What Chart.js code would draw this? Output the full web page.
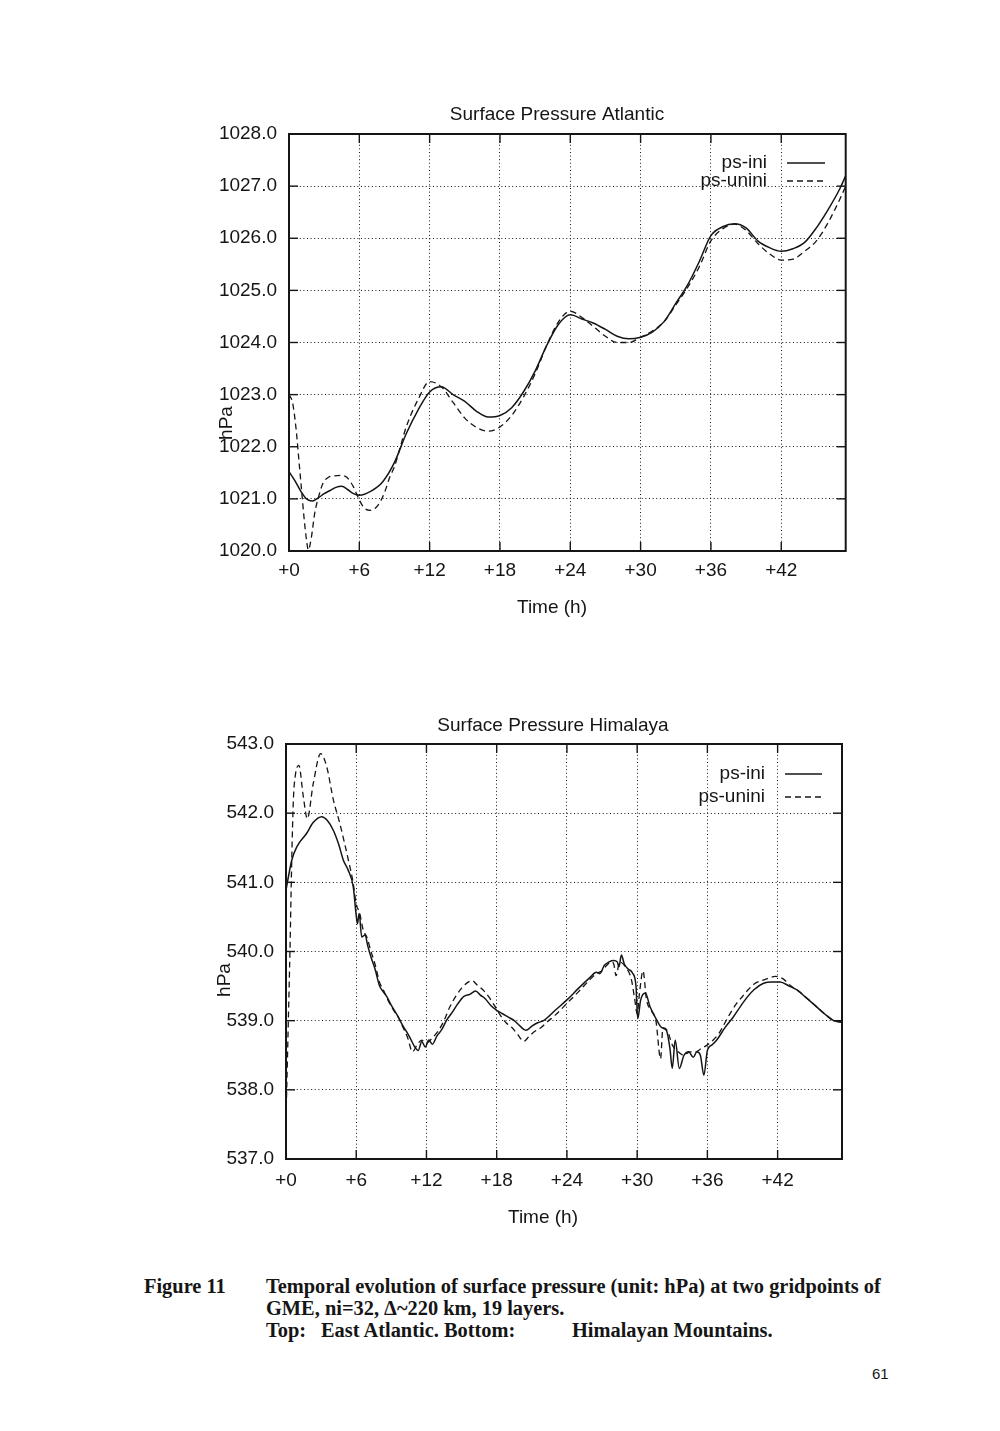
<!DOCTYPE html>
<html>
<head>
<meta charset="utf-8">
<script src="https://cdn.jsdelivr.net/npm/chart.js@4.4.1/dist/chart.umd.min.js"></script>
<style>
html,body{margin:0;padding:0;background:#fff;}
body{width:1000px;height:1431px;position:relative;overflow:hidden;}
canvas{position:absolute;left:0;}
.cap{position:absolute;font-family:"Liberation Serif","Times New Roman",serif;font-weight:bold;font-size:20.4px;line-height:22px;color:#151515;white-space:pre;}
.pg{position:absolute;font-family:"Liberation Sans",Arial,sans-serif;font-size:15px;line-height:18px;color:#151515;}
</style>
</head>
<body>
<canvas id="c1" width="1000" height="640" style="top:0;width:1000px;height:640px"></canvas>
<canvas id="c2" width="1000" height="620" style="top:640px;width:1000px;height:620px"></canvas>
<div class="cap" style="left:144px;top:1275px">Figure 11</div>
<div class="cap" style="left:266px;top:1275px">Temporal evolution of surface pressure (unit: hPa) at two gridpoints of</div>
<div class="cap" style="left:266px;top:1297px">GME, ni=32, Δ~220 km, 19 layers.</div>
<div class="cap" style="left:266px;top:1319px">Top:</div>
<div class="cap" style="left:321px;top:1319px">East Atlantic. Bottom:</div>
<div class="cap" style="left:572px;top:1319px">Himalayan Mountains.</div>
<div class="pg" style="left:872px;top:1365px">61</div>
<script>
// ---------------- data ----------------
const seriesLabels = ['ps-ini', 'ps-unini'];
const xTickStep = 6;            // hours between x ticks
const timeMax = 47.5;           // last hour shown

// Top: Surface Pressure Atlantic (hPa)
const atlIniTime = [0,0.5,1,1.5,2,2.5,3,3.5,4,4.5,5,5.5,6,7,8,9,10,11,12,13,14,15,16,17,18,19,20,21,22,23,24,25,26,27,28,29,30,31,32,33,34,35,36,37,38,39,40,41,42,43,44,45,46,47,47.5];
const atlIni = [1021.52,1021.35,1021.15,1021.0,1020.96,1021.02,1021.1,1021.16,1021.22,1021.24,1021.18,1021.1,1021.07,1021.15,1021.33,1021.7,1022.25,1022.7,1023.05,1023.15,1023.0,1022.87,1022.68,1022.57,1022.6,1022.75,1023.05,1023.45,1023.95,1024.35,1024.53,1024.45,1024.37,1024.25,1024.12,1024.07,1024.1,1024.2,1024.4,1024.75,1025.1,1025.55,1026.05,1026.22,1026.28,1026.2,1025.95,1025.82,1025.75,1025.8,1025.92,1026.2,1026.55,1026.95,1027.2];
const atlUniniTime = [0,0.3,0.6,0.9,1.1,1.3,1.5,1.65,1.9,2.2,2.6,2.9,3.4,3.8,4.4,4.9,5.5,6,6.4,6.9,7.4,7.8,8.2,8.6,9,9.5,10,11,12,13,14,15,16,17,18,19,20,21,22,23,24,25,26,27,28,29,30,31,32,33,34,35,36,37,38,39,40,41,42,43,44,45,46,47,47.5];
const atlUnini = [1023.0,1022.85,1022.35,1021.6,1021.1,1020.6,1020.2,1020.02,1020.25,1020.73,1021.1,1021.3,1021.42,1021.44,1021.45,1021.42,1021.23,1020.98,1020.83,1020.78,1020.83,1020.95,1021.15,1021.42,1021.62,1022.0,1022.38,1022.9,1023.25,1023.15,1022.85,1022.55,1022.37,1022.3,1022.38,1022.6,1022.95,1023.4,1023.95,1024.4,1024.6,1024.48,1024.3,1024.12,1024.0,1024.0,1024.1,1024.22,1024.4,1024.72,1025.05,1025.45,1025.95,1026.18,1026.27,1026.15,1025.9,1025.7,1025.58,1025.6,1025.75,1025.95,1026.3,1026.75,1027.0];
const atlYTicks = [1020, 1028];   // min, max

// Bottom: Surface Pressure Himalaya (hPa)
const himIniTime = [0,0.49,0.91,1.77,2.3,3.05,3.5,4.05,4.5,4.9,5.3,5.75,5.98,6.1,6.25,6.47,6.75,7.0,7.3,7.6,8.0,8.3,8.6,9.0,9.5,10.0,10.3,10.6,11.0,11.3,11.6,11.9,12.2,12.5,12.9,13.3,13.7,14.2,14.7,15.2,15.7,16.2,16.6,17.0,17.5,18.0,18.5,19.0,19.5,20.0,20.5,21.0,21.5,22.0,22.5,23.0,24.0,25.0,26.0,26.5,26.8,27.2,27.6,28.0,28.3,28.45,28.65,28.9,29.2,29.6,29.9,30.05,30.3,30.7,31.1,31.7,32.1,32.5,32.8,33.0,33.25,33.6,34.0,34.4,34.8,35.1,35.4,35.7,36.0,36.4,36.8,37.5,38.2,38.8,39.4,40.0,40.8,41.5,42.2,43.0,43.7,44.5,45.0,46.0,46.8,47.5];
const himIni = [540.89,541.32,541.51,541.71,541.86,541.95,541.9,541.75,541.55,541.32,541.18,540.93,540.55,540.4,540.55,540.21,540.24,540.07,539.9,539.75,539.5,539.42,539.35,539.22,539.08,538.92,538.84,538.75,538.62,538.57,538.7,538.62,538.72,538.66,538.78,538.87,539.0,539.12,539.25,539.35,539.38,539.43,539.37,539.32,539.22,539.15,539.1,539.05,539.0,538.92,538.86,538.92,538.97,539.0,539.07,539.15,539.3,539.47,539.63,539.7,539.68,539.8,539.85,539.87,539.85,539.78,539.95,539.82,539.75,539.69,539.5,539.03,539.3,539.4,539.2,539.0,538.9,538.86,538.6,538.31,538.72,538.31,538.5,538.55,538.47,538.55,538.5,538.21,538.57,538.65,538.72,538.9,539.05,539.2,539.34,539.45,539.54,539.56,539.56,539.5,539.44,539.32,539.25,539.1,539.0,538.98];
const himUniniTime = [0,0.06,0.2,0.34,0.49,0.63,0.8,1.1,1.48,1.82,2.33,2.96,3.48,4.05,4.6,5.33,5.75,5.98,6.3,6.6,6.9,7.3,7.6,8.0,8.3,8.7,9.2,9.6,10.0,10.4,10.8,11.2,11.6,12.0,12.5,13.0,13.5,14.0,14.5,15.0,15.5,15.9,16.3,16.8,17.3,17.8,18.3,18.8,19.3,19.8,20.3,20.8,21.3,21.8,22.3,23.0,24.0,25.0,26.0,26.5,27.0,27.4,27.8,28.0,28.2,28.5,29.0,29.5,29.8,30.0,30.2,30.5,30.8,31.2,31.6,32.0,32.2,32.6,33.0,33.5,34.0,34.5,35.0,35.5,36.0,36.5,37.0,37.5,38.0,38.5,39.0,39.5,40.0,41.0,41.8,42.5,43.0,44.0,45.0,46.0,46.8,47.5];
const himUnini = [537.6,538.0,539.0,540.02,541.32,542.19,542.55,542.69,542.24,541.92,542.43,542.86,542.67,542.19,541.85,541.32,540.98,540.7,540.55,540.31,540.21,539.98,539.82,539.55,539.45,539.3,539.15,539.05,538.9,538.75,538.55,538.65,538.72,538.68,538.75,538.85,539.0,539.2,539.35,539.47,539.55,539.58,539.52,539.45,539.35,539.22,539.08,538.97,538.9,538.8,538.7,538.78,538.85,538.9,538.98,539.08,539.25,539.42,539.6,539.68,539.72,539.8,539.85,539.82,539.65,539.85,539.78,539.6,539.3,539.1,539.4,539.72,539.3,539.15,539.0,538.45,538.9,538.85,538.65,538.55,538.5,538.55,538.55,538.6,538.65,538.72,538.82,538.97,539.12,539.25,539.35,539.45,539.53,539.6,539.64,539.6,539.52,539.4,539.25,539.1,539.0,538.98];
const himYTicks = [537, 543];

// ---------------- rendering ----------------
const FONT = '"Liberation Sans", Arial, Helvetica, sans-serif';
const INK = '#151515';
Chart.defaults.color = INK;
Chart.defaults.font.family = FONT;

function pts(t, v) { return t.map((x, i) => ({x: x, y: v[i]})); }

function buildChart(canvasId, oy, H, spec) {
  const P = spec.plot;
  const padLeft = 60, padBottom = 6;
  const decor = {
    id: 'decor',
    afterDraw(chart) {
      const ctx = chart.ctx, a = chart.chartArea, xs = chart.scales.x, ys = chart.scales.y;
      const seg = (x1, y1, x2, y2) => { ctx.beginPath(); ctx.moveTo(x1, y1); ctx.lineTo(x2, y2); ctx.stroke(); };
      ctx.save();
      ctx.strokeStyle = INK;
      ctx.setLineDash([]);
      ctx.lineWidth = 1.4;
      ys.ticks.forEach(t => {
        const py = ys.getPixelForValue(t.value);
        if (py < a.top + 2 || py > a.bottom - 2) return;
        seg(a.left, py, a.left + 9, py); seg(a.right - 9, py, a.right, py);
      });
      xs.ticks.forEach(t => {
        const px = xs.getPixelForValue(t.value);
        if (px < a.left + 2 || px > a.right - 2) return;
        seg(px, a.bottom, px, a.bottom - 9); seg(px, a.top, px, a.top + 9);
      });
      ctx.lineWidth = 2;
      ctx.strokeRect(a.left, a.top, a.right - a.left, a.bottom - a.top);
      ctx.fillStyle = INK;
      ctx.font = '19px ' + FONT;
      ctx.textAlign = 'center'; ctx.textBaseline = 'middle';
      ctx.fillText(spec.title, spec.titlePos[0], spec.titlePos[1] - oy);
      ctx.fillText(spec.xTitle, spec.xTitlePos[0], spec.xTitlePos[1] - oy);
      ctx.save();
      ctx.translate(spec.yTitlePos[0], spec.yTitlePos[1] - oy);
      ctx.rotate(-Math.PI / 2);
      ctx.fillText(spec.yTitle, 0, 0);
      ctx.restore();
      ctx.textAlign = 'right';
      chart.data.datasets.forEach((ds, i) => {
        const ly = spec.legend.rows[i] - oy;
        ctx.fillText(ds.label, spec.legend.textRight, ly);
        ctx.lineWidth = ds.borderWidth;
        ctx.setLineDash(ds.borderDash || []);
        seg(spec.legend.x0, ly, spec.legend.x1, ly);
        ctx.setLineDash([]);
      });
      ctx.restore();
    }
  };
  const gridCommon = { color: INK, lineWidth: 1, drawTicks: false, borderDash: [1, 2.6] };
  return new Chart(document.getElementById(canvasId), {
    type: 'line',
    data: {
      datasets: [
        { label: seriesLabels[0], data: pts(spec.iniT, spec.ini), borderColor: INK, borderWidth: 1.5,
          pointRadius: 0, fill: false, cubicInterpolationMode: 'monotone' },
        { label: seriesLabels[1], data: pts(spec.unT, spec.un), borderColor: INK, borderWidth: 1.3,
          borderDash: [6, 4], pointRadius: 0, fill: false, cubicInterpolationMode: 'monotone' }
      ]
    },
    options: {
      responsive: false, animation: false, devicePixelRatio: 1,
      layout: { padding: { left: padLeft, right: 1000 - P.r, top: P.t - oy, bottom: padBottom } },
      plugins: { legend: { display: false }, title: { display: false }, tooltip: { enabled: false } },
      scales: {
        x: {
          type: 'linear', min: 0, max: timeMax,
          afterFit(s) { s.height = H - (P.b - oy) - padBottom; },
          ticks: { stepSize: xTickStep, includeBounds: false, autoSkip: false, maxRotation: 0,
                   callback: v => '+' + v, font: { size: 19, family: FONT }, color: INK, padding: spec.xPad },
          grid: gridCommon,
          border: { display: false, dash: [1, 2.6] }
        },
        y: {
          min: spec.yRange[0], max: spec.yRange[1],
          afterFit(s) { s.width = P.l - padLeft; },
          ticks: { stepSize: 1, callback: v => Number(v).toFixed(1), font: { size: 19, family: FONT }, color: INK, padding: 12 },
          grid: gridCommon,
          border: { display: false, dash: [1, 2.6] }
        }
      }
    },
    plugins: [decor]
  });
}

buildChart('c1', 0, 640, {
  plot: { l: 289, r: 845.7, t: 134, b: 551 },
  iniT: atlIniTime, ini: atlIni, unT: atlUniniTime, un: atlUnini,
  yRange: atlYTicks, xPad: 8,
  title: 'Surface Pressure Atlantic', titlePos: [557, 115],
  xTitle: 'Time (h)', xTitlePos: [552, 608],
  yTitle: 'hPa', yTitlePos: [227, 423],
  legend: { rows: [163, 181], textRight: 767, x0: 787, x1: 825 }
});

buildChart('c2', 640, 620, {
  plot: { l: 286, r: 842, t: 744, b: 1159 },
  iniT: himIniTime, ini: himIni, unT: himUniniTime, un: himUnini,
  yRange: himYTicks, xPad: 10,
  title: 'Surface Pressure Himalaya', titlePos: [553, 726],
  xTitle: 'Time (h)', xTitlePos: [543, 1218],
  yTitle: 'hPa', yTitlePos: [225, 980],
  legend: { rows: [774, 797], textRight: 765, x0: 785, x1: 822 }
});
</script>
</body>
</html>
